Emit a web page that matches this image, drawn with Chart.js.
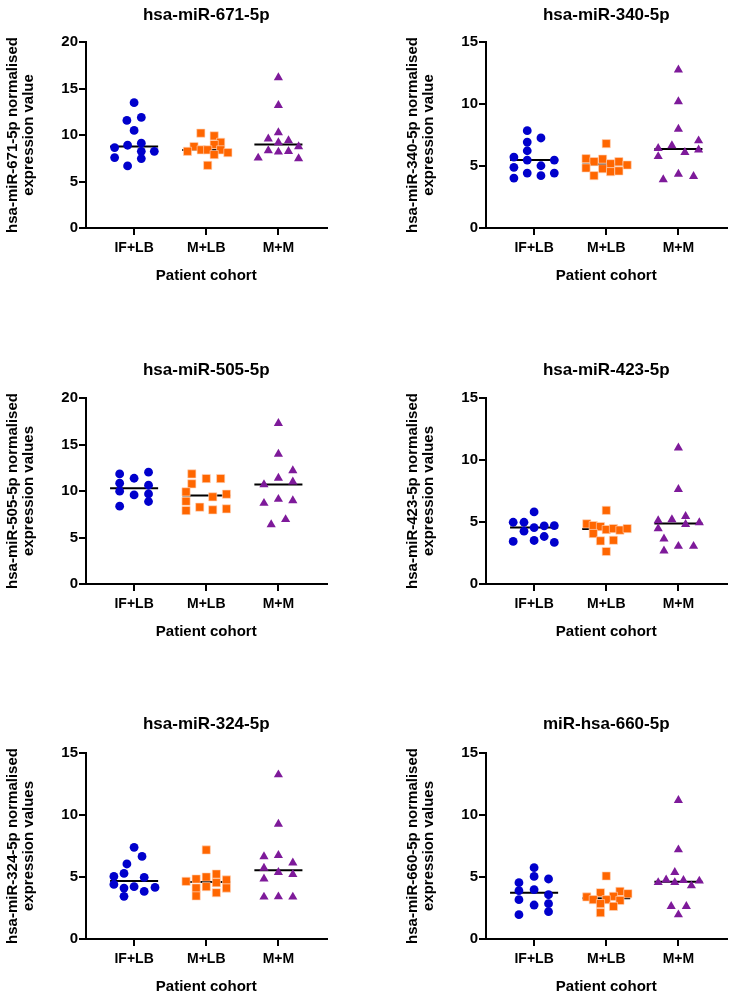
<!DOCTYPE html>
<html>
<head>
<meta charset="utf-8">
<script src="https://cdn.jsdelivr.net/npm/chart.js@4.4.1/dist/chart.umd.min.js"></script>
<style>
html, body { margin: 0; padding: 0; background: #fff; width: 733px; height: 994px; overflow: hidden; }
body { position: relative; }
canvas { position: absolute; }
</style>
</head>
<body>
<canvas id="c0" width="333" height="300" style="left:0px;top:0px"></canvas>
<canvas id="c1" width="333" height="300" style="left:400px;top:0px"></canvas>
<canvas id="c2" width="333" height="300" style="left:0px;top:356px"></canvas>
<canvas id="c3" width="333" height="300" style="left:400px;top:356px"></canvas>
<canvas id="c4" width="333" height="300" style="left:0px;top:711px"></canvas>
<canvas id="c5" width="333" height="300" style="left:400px;top:711px"></canvas>
<script>
// ---------- data ----------
const cohorts = ['IF+LB', 'M+LB', 'M+M'];
const xTitle = 'Patient cohort';
const panelTitles = ['hsa-miR-671-5p', 'hsa-miR-340-5p', 'hsa-miR-505-5p', 'hsa-miR-423-5p', 'hsa-miR-324-5p', 'miR-hsa-660-5p'];
const yTitles = [
  ['hsa-miR-671-5p normalised', 'expression value'],
  ['hsa-miR-340-5p normalised', 'expression value'],
  ['hsa-miR-505-5p normalised', 'expression values'],
  ['hsa-miR-423-5p normalised', 'expression values'],
  ['hsa-miR-324-5p normalised', 'expression values'],
  ['hsa-miR-660-5p normalised', 'expression values']
];
const yMax = [20, 15, 20, 15, 15, 15];
const yStep = 5;

// values and horizontal scatter offsets (category units) per group
const mir671_IFLB = [13.48, 11.57, 11.89, 10.49, 8.65, 8.9, 9.12, 8.25, 8.25, 7.57, 7.46, 6.67];
const mir671_IFLB_dx = [0, -0.1, 0.1, 0, -0.27, -0.09, 0.1, 0.1, 0.28, -0.27, 0.1, -0.09];
const mir671_MLB = [10.2, 9.91, 9.22, 8.76, 8.97, 8.25, 8.4, 8.4, 8.4, 7.89, 8.1, 6.74];
const mir671_MLB_dx = [-0.075, 0.11, 0.2, -0.17, 0.11, -0.26, -0.07, 0.02, 0.2, 0.11, 0.3, 0.02];
const mir671_MM = [16.18, 13.2, 10.27, 9.59, 9.19, 9.4, 8.32, 8.18, 8.25, 8.76, 7.53, 7.46];
const mir671_MM_dx = [0, 0, 0, -0.14, 0, 0.14, -0.14, 0, 0.14, 0.28, -0.28, 0.28];

const mir340_IFLB = [7.85, 6.93, 7.26, 6.23, 5.72, 5.48, 5.48, 4.89, 5.02, 4.03, 4.43, 4.22, 4.43];
const mir340_IFLB_dx = [-0.095, -0.095, 0.095, -0.095, -0.28, -0.095, 0.28, -0.28, 0.095, -0.28, -0.095, 0.095, 0.28];
const mir340_MLB = [6.8, 5.59, 5.35, 5.56, 5.18, 5.35, 5.08, 4.84, 4.78, 4.54, 4.6, 4.22];
const mir340_MLB_dx = [0, -0.28, -0.17, -0.05, 0.06, 0.175, 0.29, -0.28, -0.05, 0.06, 0.175, -0.17];
const mir340_MM = [12.76, 10.19, 7.98, 7.04, 6.42, 6.64, 6.1, 6.31, 5.77, 4.35, 3.9, 4.16];
const mir340_MM_dx = [0, 0, 0, 0.28, -0.28, -0.09, 0.09, 0.28, -0.28, 0, -0.21, 0.21];

const mir505_IFLB = [11.84, 11.37, 12.02, 10.84, 10.62, 9.98, 9.58, 9.69, 8.87, 8.37];
const mir505_IFLB_dx = [-0.2, 0, 0.2, -0.2, 0.2, -0.2, 0, 0.2, 0.2, -0.2];
const mir505_MLB = [11.84, 11.34, 11.34, 10.77, 9.91, 9.37, 9.66, 8.9, 8.26, 7.9, 7.97, 8.08];
const mir505_MLB_dx = [-0.2, 0, 0.2, -0.2, -0.28, 0.09, 0.28, -0.28, -0.09, -0.28, 0.09, 0.28];
const mir505_MM = [17.27, 13.98, 12.2, 11.4, 10.98, 10.7, 9.12, 8.98, 8.69, 6.94, 6.4];
const mir505_MM_dx = [0, 0, 0.2, 0, 0.2, -0.2, 0, 0.2, -0.2, 0.1, -0.1];

const mir423_IFLB = [5.81, 4.98, 4.98, 4.69, 4.71, 4.55, 4.26, 3.83, 3.43, 3.51, 3.35];
const mir423_IFLB_dx = [0, -0.29, -0.14, 0.14, 0.28, 0, -0.14, 0.14, -0.29, 0, 0.28];
const mir423_MLB = [5.94, 4.85, 4.71, 4.63, 4.39, 4.47, 4.34, 4.47, 4.07, 3.48, 3.53, 2.62];
const mir423_MLB_dx = [0, -0.27, -0.18, -0.08, 0, 0.1, 0.19, 0.29, -0.18, -0.08, 0.1, 0];
const mir423_MM = [10.98, 7.63, 5.46, 5.11, 5.19, 4.82, 4.95, 4.47, 3.64, 3.05, 3.05, 2.68];
const mir423_MM_dx = [0, 0, 0.1, -0.28, -0.09, 0.1, 0.29, -0.28, -0.2, 0, 0.21, -0.2];

const mir324_IFLB = [7.39, 6.66, 6.05, 5.05, 5.29, 4.97, 4.4, 4.11, 4.22, 3.84, 4.16, 3.44];
const mir324_IFLB_dx = [0, 0.11, -0.1, -0.28, -0.14, 0.14, -0.28, -0.14, 0, 0.14, 0.29, -0.14];
const mir324_MLB = [7.18, 5.24, 5.0, 4.84, 4.65, 4.54, 4.76, 4.22, 4.11, 4.11, 3.73, 3.47];
const mir324_MLB_dx = [0, 0.14, 0, -0.14, -0.28, 0.14, 0.28, 0, -0.14, 0.28, 0.14, -0.14];
const mir324_MM = [13.25, 9.27, 6.64, 6.74, 6.15, 5.72, 5.37, 5.21, 4.86, 3.39, 3.41, 3.39];
const mir324_MM_dx = [0, 0, -0.2, 0, 0.2, -0.2, 0, 0.2, -0.2, -0.2, 0, 0.2];

const mir660_IFLB = [5.75, 5.05, 4.54, 4.84, 3.9, 3.98, 3.17, 3.57, 2.74, 2.85, 2.2, 1.96];
const mir660_IFLB_dx = [0, 0, -0.21, 0.2, -0.21, 0, -0.21, 0.2, 0, 0.2, 0.2, -0.21];
const mir660_MLB = [5.08, 3.73, 3.84, 3.65, 3.39, 3.44, 3.17, 3.17, 3.11, 2.85, 2.63, 2.12];
const mir660_MLB_dx = [0, -0.08, 0.19, 0.3, -0.27, 0.1, -0.18, 0, 0.19, -0.08, 0.1, -0.08];
const mir660_MM = [11.18, 7.2, 5.37, 4.78, 4.56, 4.73, 4.56, 4.68, 4.3, 2.63, 2.63, 1.96];
const mir660_MM_dx = [0, 0, -0.05, -0.17, -0.05, 0.07, -0.28, 0.29, 0.18, -0.1, 0.11, 0];

const panelGroups = [
  [[mir671_IFLB, mir671_IFLB_dx], [mir671_MLB, mir671_MLB_dx], [mir671_MM, mir671_MM_dx]],
  [[mir340_IFLB, mir340_IFLB_dx], [mir340_MLB, mir340_MLB_dx], [mir340_MM, mir340_MM_dx]],
  [[mir505_IFLB, mir505_IFLB_dx], [mir505_MLB, mir505_MLB_dx], [mir505_MM, mir505_MM_dx]],
  [[mir423_IFLB, mir423_IFLB_dx], [mir423_MLB, mir423_MLB_dx], [mir423_MM, mir423_MM_dx]],
  [[mir324_IFLB, mir324_IFLB_dx], [mir324_MLB, mir324_MLB_dx], [mir324_MM, mir324_MM_dx]],
  [[mir660_IFLB, mir660_IFLB_dx], [mir660_MLB, mir660_MLB_dx], [mir660_MM, mir660_MM_dx]]
];

// ---------- styling ----------
const FONT = "'Liberation Sans', Arial, Helvetica, sans-serif";
const groupColors = ['#0000CC', '#FF6600', '#7E1A9A'];
const groupStyles = ['circle', 'rect', 'triangle'];
const groupRadii = [4.4, 5.8, 5.3];
const MED_HALF = 0.333;
const titleTopPad = [5, 5, 4, 4, 3.5, 3.5];

function median(a) {
  const s = [...a].sort((p, q) => p - q);
  const n = s.length;
  return n % 2 ? s[(n - 1) / 2] : (s[n / 2 - 1] + s[n / 2]) / 2;
}

const axisGrid = { display: true, drawOnChartArea: false, drawTicks: true, tickLength: 7, color: '#000', lineWidth: 2 };
const axisBorder = { display: true, color: '#000', width: 2 };
const xTickFont = { family: FONT, size: 14, weight: 'bold' };
const yTickFont = { family: FONT, size: 15, weight: 'bold' };

panelGroups.forEach((groups, i) => {
  const datasets = [];
  groups.forEach(([vals, dx], k) => {
    datasets.push({
      type: 'scatter',
      data: vals.map((v, j) => ({ x: k + 1 + dx[j], y: v })),
      pointStyle: groupStyles[k],
      pointRadius: groupRadii[k],
      pointHoverRadius: groupRadii[k],
      backgroundColor: groupColors[k],
      borderColor: k === 1 ? 'rgba(255,215,190,0.9)' : groupColors[k],
      borderWidth: k === 1 ? 0.7 : 0,
      order: 0
    });
    const m = median(vals);
    datasets.push({
      type: 'line',
      data: [{ x: k + 1 - MED_HALF, y: m }, { x: k + 1 + MED_HALF, y: m }],
      borderColor: '#000',
      borderWidth: 2,
      pointRadius: 0,
      fill: false,
      order: 1
    });
  });

  const tp = titleTopPad[i];
  new Chart(document.getElementById('c' + i), {
    type: 'scatter',
    data: { datasets },
    options: {
      responsive: false,
      animation: false,
      devicePixelRatio: 1,
      events: [],
      layout: { padding: { left: 0, right: 6, top: 0, bottom: 15 } },
      plugins: {
        legend: { display: false },
        tooltip: { enabled: false },
        title: {
          display: true,
          text: panelTitles[i],
          fullSize: false,
          color: '#000',
          font: { family: FONT, size: 17, weight: 'bold', lineHeight: 1.2 },
          padding: { top: tp, bottom: 42 - 20.4 - tp }
        }
      },
      scales: {
        x: {
          type: 'linear',
          min: 1 / 3,
          max: 11 / 3,
          afterBuildTicks: (s) => { s.ticks = cohorts.map((c, j) => ({ value: j + 1 })); },
          afterFit: (s) => { s.height = 57; },
          ticks: {
            callback: (v) => cohorts[Math.round(v) - 1],
            color: '#000', font: xTickFont, padding: 5, maxRotation: 0, autoSkip: false
          },
          grid: axisGrid,
          border: axisBorder,
          title: {
            display: true, text: xTitle, color: '#000',
            font: { family: FONT, size: 15, weight: 'bold', lineHeight: 1.2 },
            padding: { top: 0, bottom: 0 }
          }
        },
        y: {
          min: 0,
          max: yMax[i],
          afterFit: (s) => { s.width = 86; },
          ticks: { stepSize: yStep, color: '#000', font: yTickFont, padding: 1 },
          grid: axisGrid,
          border: axisBorder,
          title: {
            display: true, text: yTitles[i], color: '#000',
            font: { family: FONT, size: 15, weight: 'bold', lineHeight: 1.1 },
            padding: { top: 4.5, bottom: 0 }
          }
        }
      }
    }
  });
});
</script>
</body>
</html>
